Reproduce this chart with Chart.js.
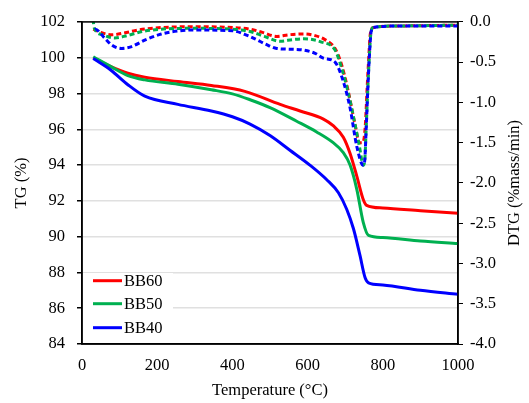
<!DOCTYPE html>
<html>
<head>
<meta charset="utf-8">
<script src="https://cdn.jsdelivr.net/npm/chart.js@4.4.1/dist/chart.umd.min.js"></script>
<style>
  html, body { margin: 0; padding: 0; background: #fff; }
  #wrap { width: 529px; height: 403px; position: relative; }
</style>
</head>
<body>
<div id="wrap"><canvas id="tgChart"></canvas></div>
<script>
// --- TG curves, [temperature °C, mass %] ---
const tgBB60 = [[30,100.0],[77,99.5],[122,99.13],[167,98.91],[255,98.67],[344,98.45],[433,98.12],[527,97.39],[580,97.02],[642,96.57],[668,96.2],[695,95.56],[713,94.65],[731,93.37],[748,92.08],[757,91.75],[800,91.6],[900,91.45],[1000,91.3]];
const tgBB50 = [[30,100.05],[77,99.5],[122,99.0],[167,98.76],[255,98.52],[344,98.21],[400,97.98],[447,97.65],[500,97.21],[571,96.45],[624,95.85],[668,95.25],[695,94.7],[713,94.0],[731,92.63],[748,90.8],[762,90.07],[800,89.95],[900,89.75],[1000,89.61]];
const tgBB40 = [[30,99.95],[77,99.3],[122,98.49],[167,97.85],[255,97.39],[344,97.02],[400,96.7],[447,96.29],[500,95.65],[553,94.83],[606,94.0],[651,93.18],[682,92.45],[704,91.53],[722,90.44],[739,88.98],[753,87.7],[762,87.42],[800,87.3],[900,87.0],[1000,86.78]];

// --- DTG curves, [temperature °C, %mass/min] ---
const dtgBB60 = [[30,-0.09],[50,-0.13],[78,-0.16],[110,-0.14],[150,-0.10],[211,-0.07],[300,-0.06],[400,-0.07],[447,-0.09],[480,-0.13],[518,-0.18],[550,-0.16],[589,-0.15],[620,-0.17],[646,-0.22],[673,-0.33],[691,-0.54],[708,-0.86],[726,-1.27],[738,-1.5],[746,-1.5],[750,-1.45],[754,-1.25],[758,-0.85],[762,-0.5],[767,-0.14],[775,-0.07],[850,-0.05],[1000,-0.04]];
const dtgBB50 = [[30,0.0],[33,-0.08],[55,-0.16],[87,-0.2],[120,-0.17],[160,-0.12],[211,-0.09],[300,-0.08],[400,-0.09],[447,-0.12],[485,-0.18],[527,-0.24],[560,-0.22],[589,-0.21],[637,-0.25],[673,-0.35],[691,-0.58],[708,-0.88],[726,-1.27],[738,-1.55],[748,-1.78],[752,-1.72],[756,-1.3],[760,-0.85],[764,-0.45],[769,-0.12],[775,-0.07],[850,-0.05],[1000,-0.04]];
const dtgBB40 = [[30,-0.12],[35,-0.09],[60,-0.2],[80,-0.29],[105,-0.33],[130,-0.31],[170,-0.22],[211,-0.15],[260,-0.11],[300,-0.1],[400,-0.11],[441,-0.17],[460,-0.21],[490,-0.28],[518,-0.33],[560,-0.34],[589,-0.35],[620,-0.39],[642,-0.45],[673,-0.5],[695,-0.74],[713,-1.07],[731,-1.55],[748,-1.78],[752,-1.72],[756,-1.3],[760,-0.85],[764,-0.45],[769,-0.12],[775,-0.07],[850,-0.05],[1000,-0.05]];

const seriesNames = ['BB60', 'BB50', 'BB40'];
const seriesColors = ['#ff0000', '#00b050', '#0000ff'];
const dashOffsets = [0, 2.7, 5.3];

const serif = 'Liberation Serif, Times New Roman, serif';
const fontSize = 16.5;

const tgSets = [tgBB60, tgBB50, tgBB40];
const dtgSets = [dtgBB60, dtgBB50, dtgBB40];

// lower order is painted later, so BB40 ends up on top and TG over DTG
const datasets = [];
tgSets.forEach((d, i) => {
    datasets.push({
        label: seriesNames[i],
        data: d,
        yAxisID: 'y',
        borderColor: seriesColors[i],
        borderWidth: 3,
        pointRadius: 0,
        cubicInterpolationMode: 'monotone',
        order: 3 - i
    });
});
dtgSets.forEach((d, i) => {
    datasets.push({
        label: seriesNames[i] + ' DTG',
        data: d,
        yAxisID: 'y1',
        borderColor: seriesColors[i],
        borderWidth: 3,
        borderDash: [5, 3],
        borderDashOffset: dashOffsets[i],
        pointRadius: 0,
        cubicInterpolationMode: 'monotone',
        order: 6 - i
    });
});

// frame round the plot, right axis title (reads bottom-up) and the legend box
const framePlugin = {
    id: 'frame',
    afterDraw(chart) {
        const { ctx, chartArea: a } = chart;
        ctx.save();
        ctx.strokeStyle = '#000';
        ctx.lineWidth = 1.5;
        ctx.strokeRect(a.left, a.top, a.right - a.left, a.bottom - a.top);

        ctx.font = fontSize + 'px ' + serif;
        ctx.fillStyle = '#000';
        ctx.save();
        ctx.translate(515, (a.top + a.bottom) / 2);
        ctx.rotate(-Math.PI / 2);
        ctx.textAlign = 'center';
        ctx.textBaseline = 'middle';
        ctx.fillText('DTG (%mass/min)', 0, 0);
        ctx.restore();

        // legend
        ctx.fillStyle = '#fff';
        ctx.fillRect(a.left + 1, a.bottom - 71, 90, 70);
        ctx.textBaseline = 'middle';
        const rows = [280.7, 303.7, 327.7];
        seriesNames.forEach((name, i) => {
            ctx.strokeStyle = seriesColors[i];
            ctx.lineWidth = 3;
            ctx.beginPath();
            ctx.moveTo(93, rows[i]);
            ctx.lineTo(122, rows[i]);
            ctx.stroke();
            ctx.fillStyle = '#000';
            ctx.fillText(name, 124, rows[i] + 1);
        });
        ctx.restore();
    }
};

new Chart(document.getElementById('tgChart'), {
    type: 'line',
    data: { datasets: datasets },
    options: {
        responsive: true,
        maintainAspectRatio: false,
        animation: false,
        layout: { padding: { top: 16, left: 0, right: 0, bottom: 0 } },
        plugins: {
            legend: { display: false },
            tooltip: { enabled: false }
        },
        scales: {
            x: {
                type: 'linear',
                min: 0,
                max: 1000,
                ticks: { stepSize: 200, color: '#000', padding: 12, font: { family: serif, size: fontSize }, callback: v => String(v) },
                grid: { display: false, drawTicks: false },
                border: { color: '#000', width: 1.5 },
                title: { display: true, text: 'Temperature (°C)', color: '#000', padding: { top: 2, bottom: 2 }, font: { family: serif, size: fontSize } },
                afterFit(scale) { scale.height = 59; }
            },
            y: {
                position: 'left',
                min: 84,
                max: 102,
                ticks: { stepSize: 2, color: '#000', padding: 12, font: { family: serif, size: fontSize } },
                grid: { color: '#e0e0e0', lineWidth: 1.5, tickColor: '#000', tickLength: 5 },
                border: { color: '#000', width: 1.5 },
                title: { display: true, text: 'TG (%)', color: '#000', padding: { top: 12, bottom: 0 }, font: { family: serif, size: fontSize } },
                afterFit(scale) { scale.width = 82; }
            },
            y1: {
                position: 'right',
                min: -4,
                max: 0,
                ticks: {
                    stepSize: 0.5,
                    color: '#000',
                    padding: 7,
                    font: { family: serif, size: fontSize },
                    callback: v => v.toFixed(1)
                },
                grid: { drawOnChartArea: false, tickColor: '#000', tickLength: 5 },
                border: { color: '#000', width: 1.5 },
                afterFit(scale) { scale.width = 71; }
            }
        }
    },
    plugins: [framePlugin]
});
</script>
</body>
</html>
